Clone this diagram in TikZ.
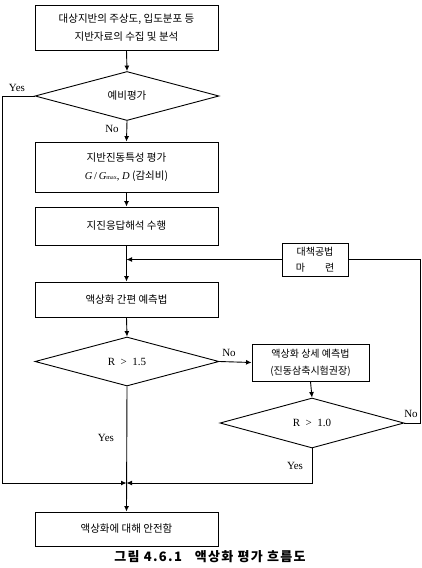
\documentclass[tikz,border=0pt]{standalone}
\usepackage{fontspec}
\setmainfont{Liberation Serif}
\newfontfamily\kr{Noto Sans CJK KR}
\newfontfamily\krcap[LetterSpace=10]{Noto Sans CJK KR}
\usetikzlibrary{arrows.meta,shapes.geometric}
\begin{document}
\begin{tikzpicture}[x=1pt,y=-1pt,
  every node/.style={inner sep=0pt},
  line/.style={line width=0.9pt},
  arr/.style={line width=0.9pt,-{Latex[length=5.5pt,width=5pt]}},
  box/.style={draw,line width=0.9pt,rectangle,minimum width=183pt,align=center,font=\kr\fontsize{10.5}{18}\selectfont},
  dia/.style={draw,line width=0.9pt,diamond,aspect=3.75,minimum width=184pt,minimum height=49pt,font=\fontsize{11}{13}\selectfont},
  lbl/.style={font=\fontsize{11}{13}\selectfont}
]
\useasboundingbox (0,0) rectangle (421,568);
% nodes
\node[box,minimum height=45pt] (b1) at (126.5,27.5) {대상지반의 주상도, 입도분포 등\\지반자료의 수집 및 분석};
\node[dia] (d1) at (127,96) {\kr\fontsize{10.5}{13}\selectfont 예비평가};
\node[box,minimum height=50pt] (b2) at (126.5,167) {지반진동특성 평가\\{\rmfamily\itshape G}\,{\rmfamily/}\,{\rmfamily\itshape G}{\rmfamily\fontsize{6}{6}\selectfont max}{\rmfamily , \itshape D} (감쇠비)};
\node[box,minimum height=38pt] (b3) at (126.5,226) {지진응답해석 수행};
\node[box,minimum height=35pt] (b4) at (126.5,299.5) {액상화 간편 예측법};
\node[dia] (d2) at (127,361.5) {R ~>~ 1.5};
\node[box,minimum width=117pt,minimum height=37pt,font=\kr\fontsize{10}{17}\selectfont] (b5) at (310.5,362.5) {액상화 상세 예측법\\(진동삼축시험권장)};
\node[dia,minimum height=50pt] (d3) at (312,423) {R ~>~ 1.0};
\node[box,minimum width=66pt,minimum height=33pt,font=\kr\fontsize{10}{16}\selectfont] (fb) at (315,259.5) {대책공법\\마\hspace{2em}련};
\node[box,minimum height=34pt] (fin) at (126.5,529) {액상화에 대해 안전함};
\node[font=\krcap\bfseries\fontsize{13}{15}\selectfont] (cap) at (210,557) {그림 4.6.1\hspace{1em}액상화 평가 흐름도};
% coordinates
\coordinate (L1) at (2,96);
\coordinate (L2) at (2,483);
\coordinate (J) at (126.5,483);
\coordinate (M) at (126.5,259.5);
\coordinate (R1) at (420.5,259.5);
\coordinate (R2) at (420.5,423);
\coordinate (Y3) at (312,483);
% connectors
\draw[arr] (b1.south) -- (d1.north);
\draw[arr] (d1.south) -- (b2.north);
\draw[arr] (b2.south) -- (b3.north);
\draw[arr] (b3.south) -- (b4.north);
\draw[arr] (fb.west) -- (M);
\draw[line] (fb.east) -- (R1) -- (R2) -- (d3.east);
\draw[arr] (b4.south) -- (d2.north);
\draw[arr] (d2.east) -- (b5.west);
\draw[arr] (b5.south) -- (d3.north);
\draw[arr] (d2.south) -- (fin.north);
\draw[arr] (d1.west) -- (L1) -- (L2) -- (J);
\draw[arr] (d3.south) -- (Y3) -- (J);
% labels
\node[lbl] (yes1) at (17,88) {Yes};
\node[lbl] (no1) at (112,129) {No};
\node[lbl] (no2) at (229,353) {No};
\node[lbl] (yes2) at (106,438) {Yes};
\node[lbl] (no3) at (411,414) {No};
\node[lbl] (yes3) at (295,466) {Yes};
\end{tikzpicture}
\end{document}
